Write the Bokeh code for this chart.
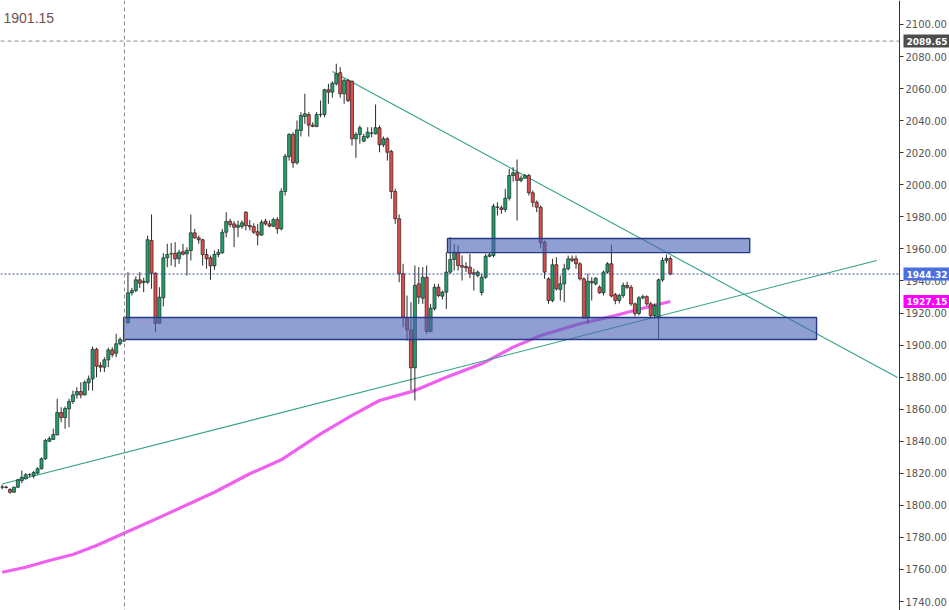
from bokeh.plotting import figure
from bokeh.models import Range1d, FixedTicker, NumeralTickFormatter, Label, Span, LinearAxis
from bokeh.embed import file_html
from bokeh.resources import INLINE

# ---------------- data ----------------
opens = [1811.3, 1811.4, 1809.9, 1808.2, 1811.3, 1815.4, 1816.6, 1819.1, 1818.4, 1820.1,
         1822.8, 1829.0, 1840.0, 1841.1, 1844.0, 1857.9, 1854.8, 1860.2, 1864.8, 1868.9,
         1871.0, 1868.9, 1876.4, 1878.9, 1897.4, 1887.2, 1886.2, 1890.8, 1897.0, 1894.9,
         1900.8, 1902.7,
         1913.9, 1932.6, 1934.0, 1940.7, 1939.0, 1939.2, 1965.2, 1944.8, 1913.6, 1929.5,
         1954.4, 1956.9, 1957.3, 1953.8, 1958.2, 1956.9, 1959.0, 1970.0, 1966.9, 1965.7,
         1956.5, 1954.4, 1949.4, 1956.5, 1957.6, 1970.4, 1977.3, 1975.6, 1973.5, 1974.0,
         1982.9, 1974.6, 1973.9, 1970.7, 1968.6, 1977.3, 1975.6, 1974.2, 1978.3,
         1972.5, 1995.8, 2017.6, 2031.4, 2013.7, 2033.9, 2042.6, 2043.8, 2037.2, 2036.4,
         2043.8, 2043.8, 2059.3, 2057.8, 2063.0, 2069.9, 2056.8, 2065.1, 2064.6, 2028.7,
         2031.4, 2027.2, 2029.7, 2032.2, 2031.8, 2035.6, 2024.9, 2028.7, 2020.8, 1995.8,
         1978.8, 1944.5, 1916.7, 1909.5, 1885.8, 1938.2,
         1929.2, 1942.3, 1908.5, 1922.6, 1936.1, 1930.5, 1933.0, 1945.5, 1953.4, 1957.9,
         1949.6, 1949.0, 1948.6, 1945.1, 1943.4, 1932.8, 1942.3, 1955.4, 1955.9, 1986.0,
         1985.6, 1984.6, 1991.6, 2005.8, 2007.5, 2002.7, 2004.1, 2005.8, 1995.0, 1989.1,
         1986.0, 1964.2,
         1941.3, 1927.8, 1950.1, 1934.7, 1938.2, 1947.6, 1953.8, 1953.8, 1950.7, 1941.3,
         1916.8, 1939.8, 1938.2, 1936.1, 1932.6, 1945.5, 1950.7, 1931.5, 1927.8, 1930.9,
         1937.2, 1936.0, 1925.7, 1919.7, 1929.5, 1930.2, 1925.7, 1918.4, 1917.4, 1940.7,
         1952.8, 1954.0]
highs = [1812.8, 1812.2, 1810.7, 1811.7, 1816.6, 1821.7, 1820.1, 1820.1, 1821.5, 1823.8,
         1830.0, 1841.5, 1843.1, 1847.8, 1866.5, 1861.2, 1861.7, 1866.5, 1871.6, 1873.7,
         1876.8, 1877.9, 1881.0, 1899.1, 1898.3, 1889.3, 1892.4, 1898.3, 1898.7, 1907.0,
         1904.9, 1903.4,
         1945.5, 1935.7, 1942.8, 1945.5, 1942.0, 1968.3, 1981.5, 1945.4, 1936.1, 1957.3,
         1963.2, 1963.6, 1964.2, 1959.4, 1963.2, 1961.0, 1981.5, 1972.5, 1968.3, 1966.3,
         1960.0, 1955.9, 1959.0, 1960.0, 1972.5, 1982.9, 1978.8, 1977.3, 1977.7, 1977.7,
         1983.5, 1978.1, 1976.0, 1975.6, 1978.1, 1978.8, 1977.7, 1979.4, 1979.8,
         1997.7, 2019.3, 2032.2, 2032.8, 2040.1, 2045.3, 2056.8, 2045.3, 2039.0, 2045.3,
         2052.6, 2059.9, 2063.0, 2064.6, 2075.5, 2073.4, 2066.1, 2066.1, 2065.1, 2032.8,
         2037.0, 2031.8, 2035.9, 2035.9, 2050.1, 2037.0, 2030.1, 2029.7, 2021.8, 1997.5,
         1981.5, 1950.7, 1930.9, 1926.7, 1949.6, 1948.6,
         1948.6, 1949.6, 1925.7, 1938.2, 1938.2, 1934.0, 1957.9, 1967.3, 1963.2, 1962.1,
         1955.9, 1951.7, 1956.9, 1947.6, 1946.5, 1944.5, 1956.9, 1957.9, 1988.1, 1989.1,
         1987.1, 1997.5, 2010.0, 2011.0, 2015.8, 2005.8, 2006.8, 2006.8, 1996.4, 1990.2,
         1987.1, 1965.2,
         1942.3, 1953.8, 1954.8, 1943.4, 1950.7, 1955.9, 1955.9, 1955.9, 1951.7, 1942.3,
         1944.5, 1942.3, 1942.3, 1937.2, 1946.5, 1951.7, 1962.7, 1932.5, 1932.0, 1939.0,
         1939.5, 1937.5, 1926.5, 1930.5, 1931.5, 1931.0, 1927.0, 1926.0, 1941.5, 1954.6,
         1956.5, 1955.3]
lows = [1809.9, 1810.5, 1807.2, 1807.8, 1810.9, 1813.8, 1816.1, 1817.5, 1816.9, 1819.2,
        1822.4, 1828.4, 1839.4, 1840.9, 1843.6, 1851.9, 1847.8, 1848.8, 1863.3, 1866.5,
        1866.8, 1868.5, 1871.6, 1871.6, 1879.9, 1883.1, 1883.1, 1886.2, 1892.4, 1892.4,
        1899.7, 1902.0,
        1913.3, 1930.9, 1933.0, 1935.7, 1933.0, 1938.2, 1935.1, 1908.0, 1913.3, 1924.1,
        1948.6, 1949.6, 1948.6, 1950.7, 1955.9, 1943.4, 1952.8, 1966.3, 1963.2, 1949.6,
        1947.6, 1940.7, 1946.9, 1954.8, 1956.9, 1967.3, 1973.5, 1961.1, 1967.3, 1972.5,
        1971.5, 1971.5, 1969.4, 1962.1, 1968.2, 1974.6, 1973.5, 1973.5, 1969.4,
        1971.5, 1993.3, 2015.1, 2010.6, 2012.6, 2030.1, 2038.0, 2030.1, 2035.9, 2035.9,
        2042.1, 2042.1, 2050.5, 2054.3, 2061.9, 2054.3, 2050.5, 2051.5, 2024.5, 2016.8,
        2025.6, 2026.6, 2028.7, 2029.7, 2031.4, 2020.3, 2023.5, 2015.1, 1991.2, 1975.6,
        1939.2, 1911.1, 1902.8, 1872.0, 1865.4, 1925.7,
        1925.7, 1907.0, 1908.0, 1921.6, 1929.9, 1928.4, 1922.6, 1944.5, 1946.5, 1946.5,
        1940.3, 1945.5, 1941.7, 1934.0, 1942.3, 1930.9, 1941.3, 1954.8, 1954.8, 1980.8,
        1981.9, 1982.9, 1990.2, 2002.0, 1977.7, 2001.6, 2003.7, 1993.3, 1986.0, 1982.9,
        1960.4, 1941.3,
        1925.7, 1926.7, 1934.0, 1927.8, 1926.7, 1946.5, 1951.7, 1947.6, 1940.3, 1916.4,
        1913.3, 1927.8, 1937.2, 1932.0, 1930.9, 1944.5, 1929.7, 1925.5, 1926.0, 1929.5,
        1935.0, 1924.5, 1917.8, 1918.5, 1928.5, 1924.5, 1916.6, 1916.6, 1903.9, 1939.5,
        1951.0, 1943.5]
closes = [1811.5, 1811.2, 1808.2, 1811.3, 1815.9, 1817.5, 1819.1, 1819.2, 1820.5, 1822.8,
          1829.0, 1840.5, 1841.7, 1844.2, 1857.9, 1854.8, 1860.4, 1864.8, 1868.9, 1871.0,
          1868.9, 1876.8, 1878.9, 1897.4, 1886.8, 1886.2, 1890.8, 1897.0, 1894.1, 1900.8,
          1903.5, 1902.6,
          1932.6, 1934.0, 1940.7, 1938.6, 1939.8, 1965.7, 1944.8, 1913.6, 1929.9, 1954.4,
          1956.5, 1957.0, 1953.8, 1957.9, 1956.7, 1959.0, 1970.0, 1966.9, 1965.7, 1956.5,
          1953.8, 1949.4, 1956.5, 1957.9, 1970.4, 1977.1, 1975.2, 1973.5, 1974.8, 1976.3,
          1974.6, 1973.8, 1970.4, 1968.6, 1976.7, 1975.6, 1974.2, 1978.3, 1972.5,
          1995.8, 2017.8, 2031.4, 2013.7, 2034.3, 2043.2, 2044.3, 2037.2, 2036.4, 2043.8,
          2043.9, 2059.3, 2057.8, 2063.4, 2069.2, 2056.8, 2065.1, 2052.6, 2028.7, 2031.4,
          2035.6, 2030.1, 2032.8, 2032.3, 2035.6, 2024.9, 2028.7, 2020.3, 1995.8, 1978.8,
          1944.5, 1917.4, 1909.5, 1885.8, 1937.2, 1929.9,
          1942.3, 1908.5, 1923.0, 1936.1, 1930.9, 1933.0, 1945.5, 1953.4, 1957.9, 1949.6,
          1948.6, 1948.2, 1944.5, 1944.2, 1945.5, 1942.3, 1955.4, 1956.3, 1986.6, 1986.1,
          1984.6, 1991.6, 2005.8, 2007.5, 2002.7, 2004.1, 2005.8, 1995.0, 1989.1, 1986.0,
          1963.8, 1945.5,
          1927.8, 1950.1, 1935.1, 1938.2, 1947.6, 1953.8, 1952.8, 1950.7, 1941.3, 1916.8,
          1939.8, 1938.8, 1941.7, 1932.6, 1945.5, 1950.7, 1930.6, 1927.8, 1930.9, 1937.2,
          1936.0, 1925.7, 1919.7, 1929.5, 1930.2, 1925.7, 1918.4, 1924.7, 1940.7, 1952.8,
          1954.0, 1944.32]

# moving average (sampled along the bars)
ma_x = [0, 6, 12, 18, 24, 31, 42, 54, 63, 71, 81, 89, 96, 105, 113, 122, 130, 137, 147, 156, 164, 170]
ma_y = [1758.3, 1761.4, 1765.6, 1769.3, 1774.9, 1782.6, 1794.7, 1808.2, 1819.7, 1828.4, 1844.6,
        1856.1, 1865.4, 1871.6, 1879.9, 1888.3, 1898.7, 1906.0, 1913.3, 1918.4, 1923.6, 1927.15]

# drawn trend lines (bar index, price)
up_x, up_y = [0, 222.5], [1813.3, 1952.8]
down_x, down_y = [84, 227.8], [2070.7, 1879.8]

# zones (bar index range, price range)
zone_left = [30.9, 113.3]
zone_right = [207.2, 190.2]
zone_bottom = [1903.5, 1957.7]
zone_top = [1917.2, 1966.5]

cursor_bar = 31.1
cursor_price = 2089.65
last_price = 1944.32
ma_last = 1927.15
top_left_text = "1901.15"
tick_values = list(range(1740, 2101, 20))

# ---------------- figure ----------------
W, H = 949, 610
AXIS_PX = 899         # the price scale's position, px from the left
X0 = -0.43            # left edge of the frame, in bars
AXIS_X = 228.3        # where the price scale sits, in bars
PX_PER_BAR = AXIS_PX / (AXIS_X - X0)
X1 = X0 + W / PX_PER_BAR

p = figure(width=W, height=H, output_backend="svg", toolbar_location=None,
           x_axis_location=None, y_axis_location=None,
           x_range=Range1d(X0, X1), y_range=Range1d(1734.4, 2114.97),
           min_border_left=0, min_border_top=0, min_border_bottom=0, min_border_right=0,
           background_fill_color="white", border_fill_color="white")
p.grid.visible = False
p.outline_line_color = None

ax = LinearAxis(fixed_location=AXIS_X)
ax.ticker = FixedTicker(ticks=tick_values)
ax.formatter = NumeralTickFormatter(format="0.00")
ax.major_label_text_font = "DejaVu Sans"
ax.major_label_text_font_size = "10px"
ax.major_label_text_color = "#555555"
ax.axis_line_color = "#333333"
ax.major_tick_line_color = "#333333"
ax.major_tick_out = 4
ax.major_tick_in = 0
ax.minor_tick_out = 0
ax.minor_tick_in = 0
ax.major_label_standoff = 2
p.add_layout(ax, "right")

# moving average
p.line(ma_x, ma_y, line_color="#f060f0", line_width=3.2)

# trend lines
p.line(up_x, up_y, line_color="#33a08a", line_width=1.1)
p.line(down_x, down_y, line_color="#33a08a", line_width=1.1)

# candles
idx = list(range(len(opens)))
p.segment(x0=idx, y0=lows, x1=idx, y1=highs, line_color="#2b2b2b", line_width=1)
gx = [i for i in idx if closes[i] >= opens[i]]
rx = [i for i in idx if closes[i] < opens[i]]
p.vbar(x=gx, width=0.78, bottom=[opens[i] for i in gx], top=[closes[i] for i in gx],
       fill_color="#22a06b", line_color="#1d2b24", line_width=0.7)
p.vbar(x=rx, width=0.78, bottom=[closes[i] for i in rx], top=[opens[i] for i in rx],
       fill_color="#dc4e4e", line_color="#2b1d1d", line_width=0.7)

# zones on top (semi-transparent)
p.quad(left=zone_left, right=zone_right, bottom=zone_bottom, top=zone_top,
       fill_color="#4a64b4", fill_alpha=0.62, line_color="#26388a", line_width=1.4)

# cursor lines and last-price line (stop at the price scale)
p.segment(x0=[X0], x1=[AXIS_X], y0=[cursor_price], y1=[cursor_price],
          line_color="#8a8a8a", line_dash="4 3", line_width=1)
p.add_layout(Span(location=cursor_bar, dimension="height", line_color="#8a8a8a",
                  line_dash="4 3", line_width=1))
p.segment(x0=[X0], x1=[AXIS_X], y0=[last_price], y1=[last_price],
          line_color="#3a4fa8", line_dash="2 2", line_width=1)

# top-left text
p.add_layout(Label(x=3, y=H - 17, x_units="screen", y_units="screen", text=top_left_text,
                   text_font="Liberation Sans", text_font_size="14px", text_color="#6e5252",
                   text_baseline="middle", text_align="left"))

# price tags on the axis
tag_x = AXIS_X + 4.0 / PX_PER_BAR
for val, bg in [(cursor_price, "#4d4d4d"), (last_price, "#4a6fe0"), (ma_last, "#ff00ff")]:
    p.add_layout(Label(x=tag_x, y=val, x_units="data", y_units="data", text=f"{val:.2f}",
                       text_font="DejaVu Sans", text_font_size="9px", text_font_style="bold",
                       text_color="white", background_fill_color=bg, background_fill_alpha=1.0,
                       text_baseline="middle", text_align="left", padding=3))

open("out.html", "w").write(file_html(p, INLINE))
